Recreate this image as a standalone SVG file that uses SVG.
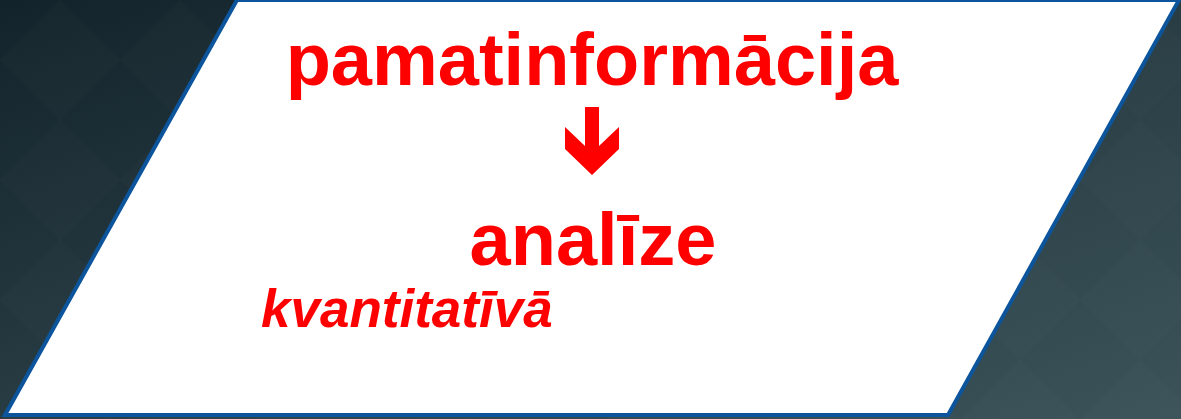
<svg xmlns="http://www.w3.org/2000/svg" width="1181" height="419" viewBox="0 0 1181 419">
  <defs>
    <linearGradient id="bg" x1="0" y1="0" x2="1" y2="1">
      <stop offset="0" stop-color="#13232b"/>
      <stop offset="0.5" stop-color="#283c43"/>
      <stop offset="1" stop-color="#3c535a"/>
    </linearGradient>
    <pattern id="diam" width="120" height="120" patternUnits="userSpaceOnUse">
      <path d="M60 0 L120 60 L60 120 L0 60 Z" fill="#ffffff" fill-opacity="0.012"/>
    </pattern>
    <style>
      .t { font-family: "Liberation Sans", Arial, sans-serif; font-weight: bold; fill: #ff0000; }
      .main { font-size: 74px; text-anchor: middle; }
      .sub { font-size: 53px; font-style: italic; }
    </style>
  </defs>
  <rect width="1181" height="419" fill="url(#bg)"/>
  <rect width="1181" height="419" fill="url(#diam)"/>
  <g id="shape">
    <polygon points="237,0 1179,0 948,415 5,415" fill="#ffffff" stroke="#0c559c" stroke-width="4"/>
  </g>
  <g id="node-pamatinformacija">
    <text class="t main" x="592" y="85">pamatinformācija</text>
  </g>
  <g id="node-analize">
    <text class="t main" x="593" y="265">analīze</text>
  </g>
  <g id="node-kvantitativa">
    <text class="t sub" x="261" y="327">kvantitatīvā</text>
  </g>
  <g id="connectors">
    <polygon points="585,107 599,107 599,146 619,127 619,149 592,175 565,149 565,127 585,146" fill="#ff0000"/>
  </g>
</svg>
